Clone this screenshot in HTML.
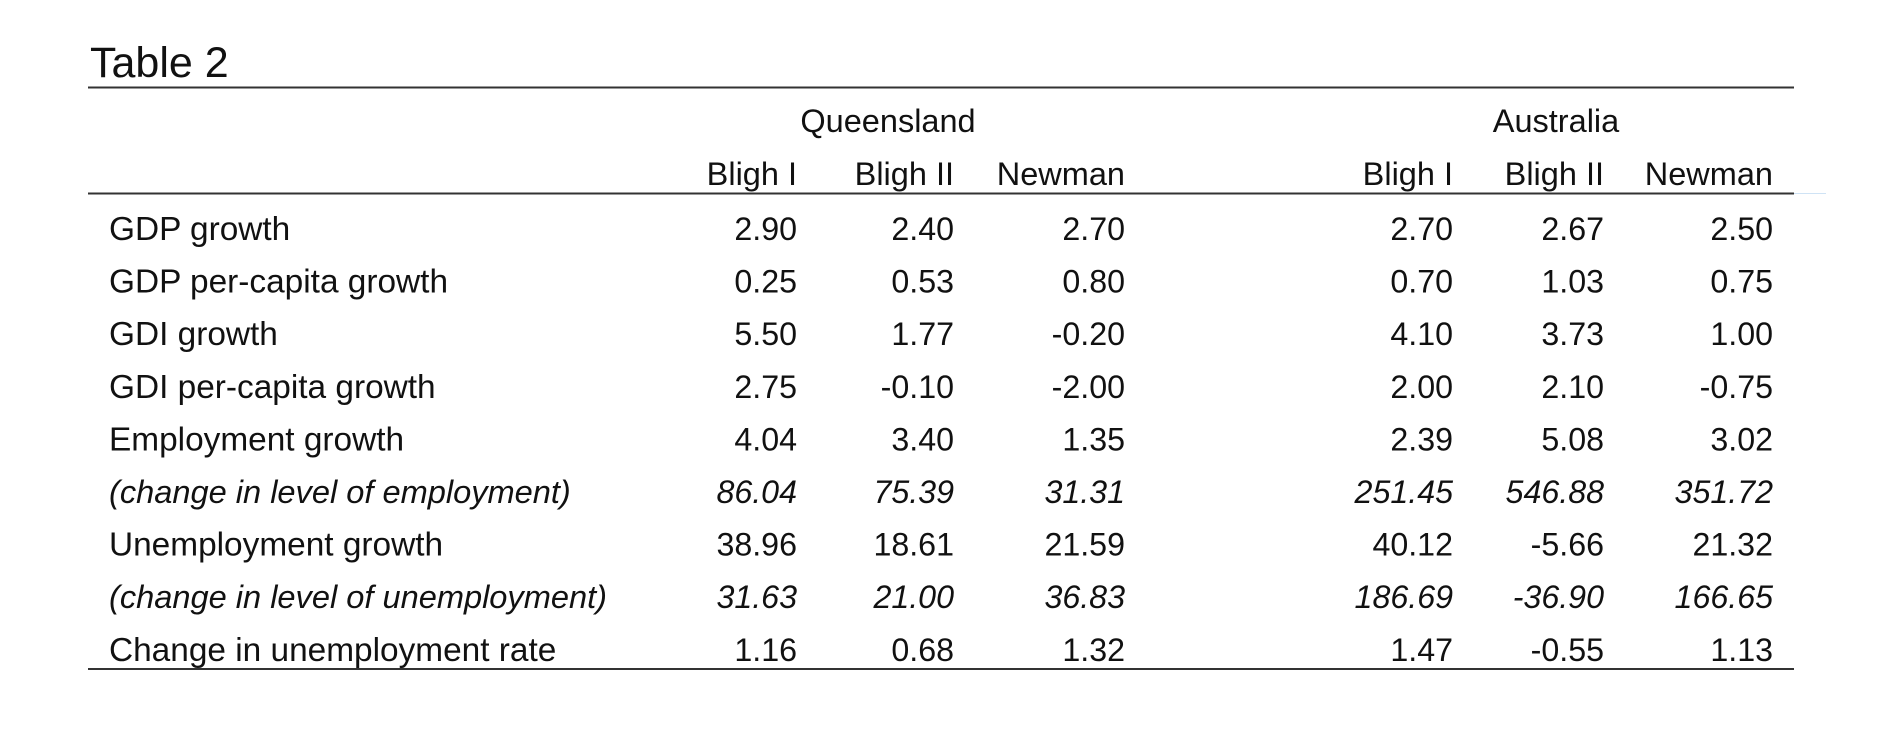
<!DOCTYPE html>
<html><head><meta charset="utf-8"><style>html,body{margin:0;padding:0;background:#fff;}</style></head>
<body>
<svg width="1896" height="738" xmlns="http://www.w3.org/2000/svg" font-family="'Liberation Sans', Arial, sans-serif" font-size="33.4" fill="#111">
<rect width="1896" height="738" fill="#fff"/>
<text x="90" y="77" font-size="43">Table 2</text>
<line x1="88" y1="87.5" x2="1794" y2="87.5" stroke="#333" stroke-width="2"/>
<g font-size="32.5">
<text x="888" y="132" text-anchor="middle">Queensland</text>
<text x="1556" y="132" text-anchor="middle">Australia</text>
<g text-anchor="end">
<text x="797" y="185">Bligh I</text><text x="954" y="185">Bligh II</text><text x="1125" y="185">Newman</text>
<text x="1453" y="185">Bligh I</text><text x="1604" y="185">Bligh II</text><text x="1773" y="185">Newman</text>
</g>
</g>
<line x1="88" y1="193.5" x2="1794" y2="193.5" stroke="#333" stroke-width="2"/>
<line x1="1794" y1="193.5" x2="1826" y2="193.5" stroke="#cfe3f5" stroke-width="1"/>
<g>
<text x="109" y="240">GDP growth</text>
<text x="109" y="292.6">GDP per-capita growth</text>
<text x="109" y="345.2">GDI growth</text>
<text x="109" y="397.8">GDI per-capita growth</text>
<text x="109" y="450.4">Employment growth</text>
<text x="109" y="503" font-style="italic" font-size="32.6">(change in level of employment)</text>
<text x="109" y="555.6">Unemployment growth</text>
<text x="109" y="608.2" font-style="italic" font-size="32.6">(change in level of unemployment)</text>
<text x="109" y="660.8">Change in unemployment rate</text>
</g>
<g text-anchor="end" font-size="32.2">
<g transform="translate(0,240)"><text x="797">2.90</text><text x="954">2.40</text><text x="1125">2.70</text><text x="1453">2.70</text><text x="1604">2.67</text><text x="1773">2.50</text></g>
<g transform="translate(0,292.6)"><text x="797">0.25</text><text x="954">0.53</text><text x="1125">0.80</text><text x="1453">0.70</text><text x="1604">1.03</text><text x="1773">0.75</text></g>
<g transform="translate(0,345.2)"><text x="797">5.50</text><text x="954">1.77</text><text x="1125">-0.20</text><text x="1453">4.10</text><text x="1604">3.73</text><text x="1773">1.00</text></g>
<g transform="translate(0,397.8)"><text x="797">2.75</text><text x="954">-0.10</text><text x="1125">-2.00</text><text x="1453">2.00</text><text x="1604">2.10</text><text x="1773">-0.75</text></g>
<g transform="translate(0,450.4)"><text x="797">4.04</text><text x="954">3.40</text><text x="1125">1.35</text><text x="1453">2.39</text><text x="1604">5.08</text><text x="1773">3.02</text></g>
<g transform="translate(0,503)" font-style="italic"><text x="797">86.04</text><text x="954">75.39</text><text x="1125">31.31</text><text x="1453">251.45</text><text x="1604">546.88</text><text x="1773">351.72</text></g>
<g transform="translate(0,555.6)"><text x="797">38.96</text><text x="954">18.61</text><text x="1125">21.59</text><text x="1453">40.12</text><text x="1604">-5.66</text><text x="1773">21.32</text></g>
<g transform="translate(0,608.2)" font-style="italic"><text x="797">31.63</text><text x="954">21.00</text><text x="1125">36.83</text><text x="1453">186.69</text><text x="1604">-36.90</text><text x="1773">166.65</text></g>
<g transform="translate(0,660.8)"><text x="797">1.16</text><text x="954">0.68</text><text x="1125">1.32</text><text x="1453">1.47</text><text x="1604">-0.55</text><text x="1773">1.13</text></g>
</g>
<line x1="88" y1="669" x2="1794" y2="669" stroke="#333" stroke-width="2"/>
</svg>
</body></html>
